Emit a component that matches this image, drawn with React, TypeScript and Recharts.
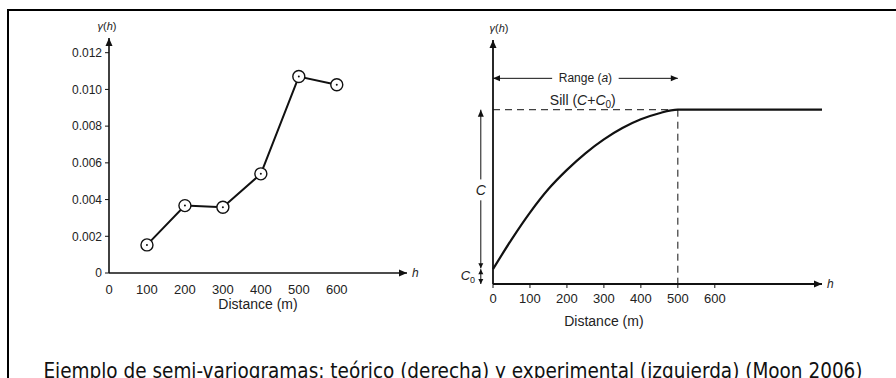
import { ComposedChart, Line, XAxis, YAxis, ReferenceLine, ReferenceDot } from "recharts";

// experimental semivariogram (left)
const expDistance = [100, 200, 300, 400, 500, 600];
const expGamma = [0.00153, 0.00367, 0.00358, 0.0054, 0.0107, 0.01025];
const expTicksX = [0, 100, 200, 300, 400, 500, 600];
const expTicksY = [0, 0.002, 0.004, 0.006, 0.008, 0.01, 0.012];
const expMaxX = 785;
const expMaxY = 0.0128;

// theoretical (spherical) model (right)
const modelDistance = [0, 50, 100, 150, 200, 250, 300, 350, 400, 450, 500, 600, 700, 800, 890];
const modelGamma = [0.085, 0.255, 0.41, 0.545, 0.655, 0.75, 0.83, 0.895, 0.945, 0.98, 1, 1, 1, 1, 1];
const modelTicksX = [0, 100, 200, 300, 400, 500, 600];
const modelMaxX = 890;
const modelMaxY = 1.4;
const nugget = 0.085;
const sill = 1;
const range = 500;
const sideX = -33; // where the C / C0 arrows sit, left of the axis

const expData = expDistance.map((d, i) => ({ d, g: expGamma[i] }));
const modelData = modelDistance.map((d, i) => ({ d, g: modelGamma[i] }));

const FONT = "'Liberation Sans', Arial, sans-serif";
const INK = "#111";
const TXT = "#222";

type Dir = "up" | "down" | "left" | "right";

function Head({ cx, cy, dir, len = 8, half = 3.5 }: { cx: number; cy: number; dir: Dir; len?: number; half?: number }) {
  let pts = "";
  if (dir === "right") pts = `${cx},${cy} ${cx - len},${cy - half} ${cx - len},${cy + half}`;
  if (dir === "left") pts = `${cx},${cy} ${cx + len},${cy - half} ${cx + len},${cy + half}`;
  if (dir === "up") pts = `${cx},${cy} ${cx - half},${cy + len} ${cx + half},${cy + len}`;
  if (dir === "down") pts = `${cx},${cy} ${cx - half},${cy - len} ${cx + half},${cy - len}`;
  return <polygon points={pts} fill={INK} />;
}

const head = (dir: Dir, len?: number, half?: number) => (p: any) => (
  <Head cx={p.cx} cy={p.cy} dir={dir} len={len} half={half} />
);

function RingDot(p: any) {
  if (p.cx == null) return null;
  return (
    <g key={`dot-${p.index}`}>
      <circle cx={p.cx} cy={p.cy} r={6} fill="#fff" stroke={INK} strokeWidth={1.4} />
      <circle cx={p.cx} cy={p.cy} r={1} fill={INK} />
    </g>
  );
}

const gammaText = (x: number, y: number) => (
  <text x={x} y={y} textAnchor="middle" fontSize={11} fill={TXT} fontFamily={FONT}>
    <tspan fontStyle="italic">γ</tspan>
    <tspan>(</tspan>
    <tspan fontStyle="italic">h</tspan>
    <tspan>)</tspan>
  </text>
);

const gammaLabel = (p: any) => {
  const vb = p.viewBox || {};
  return gammaText(vb.x - 2, vb.y - 8);
};

const gammaLabelRight = (p: any) => {
  const vb = p.viewBox || {};
  return gammaText(vb.x + 6, vb.y - 8);
};

const hLabel = (p: any) => {
  const vb = p.viewBox || {};
  return (
    <text x={vb.x + 5} y={vb.y + 4} fontSize={12} fontStyle="italic" fill={TXT} fontFamily={FONT}>
      h
    </text>
  );
};

const sillLabel = (p: any) => {
  const vb = p.viewBox || {};
  return (
    <text x={vb.x} y={vb.y + 5} textAnchor="middle" fontSize={14} fill={TXT} fontFamily={FONT}>
      <tspan>Sill (</tspan>
      <tspan fontStyle="italic">C</tspan>
      <tspan>+</tspan>
      <tspan fontStyle="italic">C</tspan>
      <tspan fontSize={10} dy={3}>0</tspan>
      <tspan dy={-3}>)</tspan>
    </text>
  );
};

const rangeLabel = (p: any) => {
  const vb = p.viewBox || {};
  return (
    <text x={vb.x} y={vb.y + 4} textAnchor="middle" fontSize={12} fill={TXT} fontFamily={FONT}>
      <tspan>Range (</tspan>
      <tspan fontStyle="italic">a</tspan>
      <tspan>)</tspan>
    </text>
  );
};

const cLabel = (p: any) => {
  const vb = p.viewBox || {};
  return (
    <text x={vb.x} y={vb.y + 5} textAnchor="middle" fontSize={14} fontStyle="italic" fill={TXT} fontFamily={FONT}>
      C
    </text>
  );
};

const c0Label = (p: any) => {
  const vb = p.viewBox || {};
  return (
    <text x={vb.x} y={vb.y + 4} textAnchor="middle" fontSize={13} fill={TXT} fontFamily={FONT}>
      <tspan fontStyle="italic">C</tspan>
      <tspan fontSize={9} dy={3}>0</tspan>
    </text>
  );
};

const distLabel = (p: any) => {
  const vb = p.viewBox || {};
  return (
    <text x={vb.x} y={vb.y + 42} textAnchor="middle" fontSize={14} fill={TXT} fontFamily={FONT}>
      Distance (m)
    </text>
  );
};

const tickStyle = { fontSize: 13, fill: TXT, fontFamily: FONT };

function ExperimentalChart() {
  return (
    <ComposedChart width={420} height={320} data={expData} margin={{ top: 38, right: 13, bottom: 11, left: 0 }}>
      <XAxis
        dataKey="d"
        type="number"
        domain={[0, expMaxX]}
        ticks={expTicksX}
        tickLine={false}
        tickMargin={6}
        tick={tickStyle}
        axisLine={{ stroke: INK, strokeWidth: 1.6 }}
        height={36}
        label={{ value: "Distance (m)", position: "insideBottom", offset: 0, fontSize: 14, fill: TXT, fontFamily: FONT }}
      />
      <YAxis
        type="number"
        domain={[0, expMaxY]}
        ticks={expTicksY}
        tickFormatter={(v: number) => (v === 0 ? "0" : v.toFixed(3))}
        tickSize={4}
        tickMargin={3}
        tickLine={{ stroke: INK }}
        tick={{ ...tickStyle, fontSize: 12 }}
        axisLine={{ stroke: INK, strokeWidth: 1.6 }}
        width={109}
      />
      <Line dataKey="g" stroke={INK} strokeWidth={2} dot={RingDot} activeDot={false} isAnimationActive={false} />
      <ReferenceDot x={expMaxX} y={0} r={0} ifOverflow="visible" shape={head("right")} label={hLabel} />
      <ReferenceDot x={0} y={expMaxY} r={0} ifOverflow="visible" shape={head("up")} label={gammaLabel} />
    </ComposedChart>
  );
}

function ModelChart() {
  const line = { stroke: INK, strokeWidth: 1, ifOverflow: "visible" as const };
  return (
    <ComposedChart width={460} height={340} data={modelData} margin={{ top: 40, right: 18, bottom: 16, left: 0 }}>
      <XAxis
        dataKey="d"
        type="number"
        domain={[0, modelMaxX]}
        ticks={modelTicksX}
        tickSize={4}
        tickMargin={6}
        tickLine={{ stroke: INK }}
        tick={tickStyle}
        axisLine={{ stroke: INK, strokeWidth: 1.8 }}
        height={40}
      />
      <YAxis
        type="number"
        domain={[0, modelMaxY]}
        tick={false}
        tickLine={false}
        axisLine={{ stroke: INK, strokeWidth: 1.8 }}
        width={113}
      />
      {/* sill and range guides */}
      <ReferenceLine segment={[{ x: 0, y: sill }, { x: range, y: sill }]} stroke={INK} strokeDasharray="7 5" ifOverflow="visible" />
      <ReferenceLine segment={[{ x: range, y: sill }, { x: range, y: 0 }]} stroke={INK} strokeDasharray="7 5" ifOverflow="visible" />
      <Line dataKey="g" stroke={INK} strokeWidth={2.2} dot={false} activeDot={false} type="monotone" isAnimationActive={false} />

      {/* Range (a) arrow */}
      <ReferenceLine segment={[{ x: 0, y: 1.18 }, { x: 160, y: 1.18 }]} {...line} />
      <ReferenceLine segment={[{ x: 340, y: 1.18 }, { x: range, y: 1.18 }]} {...line} />
      <ReferenceDot x={0} y={1.18} r={0} ifOverflow="visible" shape={head("left", 7, 3)} />
      <ReferenceDot x={range} y={1.18} r={0} ifOverflow="visible" shape={head("right", 7, 3)} />
      <ReferenceDot x={250} y={1.18} r={0} ifOverflow="visible" label={rangeLabel} />
      <ReferenceDot x={243} y={1.055} r={0} ifOverflow="visible" label={sillLabel} />

      {/* C arrow */}
      <ReferenceLine segment={[{ x: sideX, y: sill }, { x: sideX, y: 0.6 }]} {...line} />
      <ReferenceLine segment={[{ x: sideX, y: 0.48 }, { x: sideX, y: nugget + 0.005 }]} {...line} />
      <ReferenceDot x={sideX} y={sill} r={0} ifOverflow="visible" shape={head("up", 7, 3)} />
      <ReferenceDot x={sideX} y={nugget + 0.005} r={0} ifOverflow="visible" shape={head("down", 5, 2.5)} />
      <ReferenceDot x={sideX} y={0.54} r={0} ifOverflow="visible" label={cLabel} />

      {/* C0 arrow */}
      <ReferenceLine segment={[{ x: sideX, y: nugget }, { x: sideX, y: 0 }]} {...line} />
      <ReferenceDot x={sideX} y={nugget} r={0} ifOverflow="visible" shape={head("up", 5, 2.5)} />
      <ReferenceDot x={sideX} y={0} r={0} ifOverflow="visible" shape={head("down", 5, 2.5)} />
      <ReferenceDot x={-68} y={0.045} r={0} ifOverflow="visible" label={c0Label} />

      <ReferenceDot x={modelMaxX} y={0} r={0} ifOverflow="visible" shape={head("right")} label={hLabel} />
      <ReferenceDot x={0} y={modelMaxY} r={0} ifOverflow="visible" shape={head("up")} label={gammaLabelRight} />
      <ReferenceDot x={300} y={0} r={0} ifOverflow="visible" label={distLabel} />
    </ComposedChart>
  );
}

export default function App() {
  return (
    <div style={{ position: "fixed", left: 0, top: 0, width: 896, height: 378, background: "#fff", overflow: "hidden" }}>
      <div style={{ position: "absolute", left: 7, top: 9, width: 889, height: 2, background: "#000" }} />
      <div style={{ position: "absolute", left: 7, top: 9, width: 2, height: 369, background: "#000" }} />
      <div style={{ position: "absolute", left: 0, top: 0 }}>
        <ExperimentalChart />
      </div>
      <div style={{ position: "absolute", left: 380, top: 0 }}>
        <ModelChart />
      </div>
      <div
        style={{
          position: "absolute",
          left: 0,
          width: 906,
          top: 359,
          textAlign: "center",
          fontFamily: "'DejaVu Sans Condensed', 'DejaVu Sans', sans-serif",
          fontStretch: "condensed",
          fontSize: 20.5,
          lineHeight: "24px",
          color: "#111",
          whiteSpace: "nowrap",
        }}
      >
        Ejemplo de semi-variogramas: teórico (derecha) y experimental (izquierda) (Moon 2006)
      </div>
    </div>
  );
}
